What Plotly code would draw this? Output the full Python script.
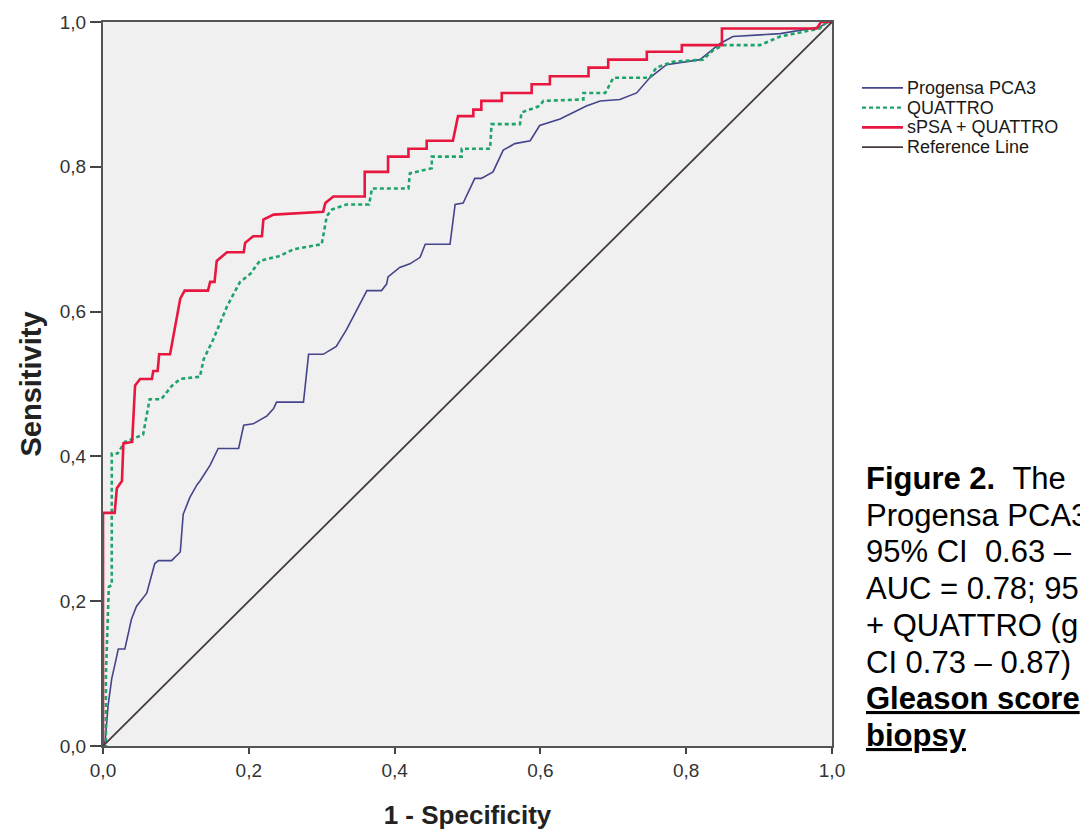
import plotly.graph_objects as go

# ---- data ----
tick_vals = [0.0, 0.2, 0.4, 0.6, 0.8, 1.0]
tick_text = ["0,0", "0,2", "0,4", "0,6", "0,8", "1,0"]

pca3_x = [0, 0.003, 0.007, 0.012, 0.016, 0.021, 0.030, 0.035, 0.039, 0.046, 0.053, 0.060,
          0.071, 0.076, 0.094, 0.106, 0.110, 0.119, 0.129, 0.133, 0.147, 0.154, 0.158,
          0.186, 0.193, 0.206, 0.225, 0.234, 0.238, 0.275, 0.282, 0.302, 0.320, 0.334,
          0.357, 0.362, 0.382, 0.389, 0.391, 0.407, 0.421, 0.435, 0.442, 0.476, 0.483,
          0.494, 0.510, 0.519, 0.535, 0.549, 0.565, 0.586, 0.599, 0.627, 0.663, 0.682,
          0.709, 0.732, 0.750, 0.773, 0.819, 0.846, 0.864, 0.929, 0.983, 0.995, 1.0]
pca3_y = [0, 0.007, 0.056, 0.093, 0.111, 0.134, 0.134, 0.156, 0.175, 0.193, 0.202, 0.211,
          0.252, 0.256, 0.256, 0.268, 0.320, 0.343, 0.361, 0.366, 0.388, 0.402, 0.411,
          0.411, 0.443, 0.445, 0.456, 0.466, 0.475, 0.475, 0.541, 0.541, 0.552, 0.575,
          0.620, 0.629, 0.629, 0.638, 0.648, 0.661, 0.666, 0.675, 0.693, 0.693, 0.748,
          0.750, 0.784, 0.784, 0.793, 0.823, 0.832, 0.836, 0.857, 0.866, 0.884, 0.891,
          0.893, 0.902, 0.923, 0.941, 0.948, 0.970, 0.980, 0.984, 0.993, 1.0, 1.0]

quattro_x = [0, 0.004, 0.004, 0.008, 0.012, 0.012, 0.020, 0.030, 0.055, 0.064, 0.080,
             0.094, 0.106, 0.133, 0.138, 0.151, 0.170, 0.179, 0.188, 0.202, 0.215, 0.243,
             0.261, 0.300, 0.307, 0.314, 0.334, 0.365, 0.369, 0.419, 0.421, 0.451, 0.451,
             0.492, 0.492, 0.531, 0.533, 0.572, 0.574, 0.599, 0.604, 0.659, 0.659, 0.689,
             0.700, 0.750, 0.759, 0.782, 0.823, 0.837, 0.851, 0.901, 0.929, 0.983, 0.993, 1.0]
quattro_y = [0, 0.0, 0.100, 0.220, 0.222, 0.404, 0.404, 0.420, 0.430, 0.479, 0.479,
             0.497, 0.507, 0.510, 0.534, 0.561, 0.607, 0.625, 0.641, 0.652, 0.670, 0.677,
             0.686, 0.693, 0.732, 0.741, 0.748, 0.748, 0.770, 0.770, 0.791, 0.798, 0.814,
             0.814, 0.825, 0.825, 0.859, 0.859, 0.875, 0.884, 0.891, 0.893, 0.902, 0.902,
             0.923, 0.923, 0.937, 0.945, 0.948, 0.961, 0.968, 0.968, 0.980, 0.991, 1.0, 1.0]

combo_x = [0, 0, 0.016, 0.019, 0.026, 0.028, 0.040, 0.044, 0.051, 0.067, 0.069, 0.075,
           0.077, 0.092, 0.106, 0.112, 0.144, 0.147, 0.153, 0.156, 0.170, 0.193, 0.195,
           0.206, 0.218, 0.220, 0.234, 0.302, 0.305, 0.316, 0.359, 0.359, 0.391, 0.391,
           0.419, 0.419, 0.444, 0.444, 0.480, 0.487, 0.508, 0.508, 0.519, 0.519, 0.547,
           0.547, 0.588, 0.588, 0.613, 0.613, 0.666, 0.666, 0.693, 0.693, 0.746, 0.746,
           0.794, 0.794, 0.849, 0.849, 0.979, 0.985, 1.0]
combo_y = [0, 0.322, 0.322, 0.356, 0.366, 0.418, 0.420, 0.498, 0.507, 0.507, 0.518, 0.518,
           0.541, 0.541, 0.618, 0.629, 0.629, 0.641, 0.641, 0.670, 0.682, 0.682, 0.695,
           0.704, 0.704, 0.727, 0.734, 0.738, 0.750, 0.759, 0.759, 0.793, 0.793, 0.814,
           0.814, 0.825, 0.825, 0.836, 0.836, 0.870, 0.870, 0.879, 0.879, 0.891, 0.891,
           0.902, 0.902, 0.914, 0.914, 0.925, 0.925, 0.937, 0.937, 0.948, 0.948, 0.959,
           0.959, 0.968, 0.968, 0.991, 0.991, 1.0, 1.0]

ref_x = [0.0, 1.0]
ref_y = [0.0, 1.0]

series_names = ["Progensa PCA3", "QUATTRO", "sPSA + QUATTRO", "Reference Line"]

caption_lines = ["<b>Figure 2.</b>&nbsp;&nbsp;The", "Progensa PCA3", "95% CI&nbsp;&nbsp;0.63 \u2013",
                 "AUC = 0.78; 95", "+ QUATTRO (g", "CI 0.73 \u2013 0.87)",
                 "<b><u>Gleason score</u></b>", "<b><u>biopsy</u></b>"]

FONT = "Liberation Sans, Arial, sans-serif"
styles = [dict(color="#44448c", width=1.6),
          dict(color="#1fa36b", width=2.6, dash="4px,3px"),
          dict(color="#e8173f", width=2.6),
          dict(color="#453a3e", width=1.8)]

fig = go.Figure()
for name, xs, ys, st in zip(series_names, [pca3_x, quattro_x, combo_x, ref_x],
                            [pca3_y, quattro_y, combo_y, ref_y], styles):
    fig.add_trace(go.Scatter(x=xs, y=ys, mode="lines", name=name, line=st,
                             showlegend=False))

axis_common = dict(range=[0, 1], tickvals=tick_vals, ticktext=tick_text,
                   ticks="outside", tickwidth=2, tickcolor="#444",
                   showline=True, linecolor="#555", linewidth=2, mirror=True,
                   showgrid=False, zeroline=False,
                   tickfont=dict(family=FONT, size=19, color="#333"))

fig.update_xaxes(**axis_common, ticklen=6,
                 title=dict(text="<b>1 - Specificity</b>", standoff=26,
                            font=dict(family=FONT, size=26, color="#222")))
fig.update_yaxes(**axis_common, ticklen=11,
                 title=dict(text="<b>Sensitivity</b>", standoff=10,
                            font=dict(family=FONT, size=29, color="#222")))

# legend (drawn beside the plot, like the SPSS output)
PW, PH, L, B = 729.0, 733.0, 103.0, 748.0
for i, (name, st) in enumerate(zip(series_names, styles)):
    ypx = 81.7 + 20 * i
    yp = (B - ypx) / PH
    fig.add_shape(type="line", xref="paper", yref="paper",
                  x0=(862 - L) / PW, x1=(903 - L) / PW, y0=yp, y1=yp,
                  line=dict(color=st["color"], width=st["width"] if i != 1 else 2.4,
                            dash=st.get("dash", "solid")))
    fig.add_annotation(text=name, xref="paper", yref="paper", x=(905 - L) / PW, y=yp,
                       xanchor="left", yanchor="middle", showarrow=False,
                       font=dict(family=FONT, size=18, color="#1a1a1a"))

for i, line in enumerate(caption_lines):
    ypx = 477 + i * 37.2
    fig.add_annotation(text=line, xref="paper", yref="paper", x=(864 - L) / PW,
                       y=(B - ypx) / PH, xanchor="left", yanchor="middle",
                       showarrow=False, font=dict(family=FONT, size=31, color="#000"))

fig.update_layout(
    width=1080, height=837,
    margin=dict(l=103, r=248, t=15, b=89),
    paper_bgcolor="white", plot_bgcolor="#f0f0f0",
    font=dict(family=FONT, color="#222"),
    showlegend=False,
)

fig.write_html("out.html")
